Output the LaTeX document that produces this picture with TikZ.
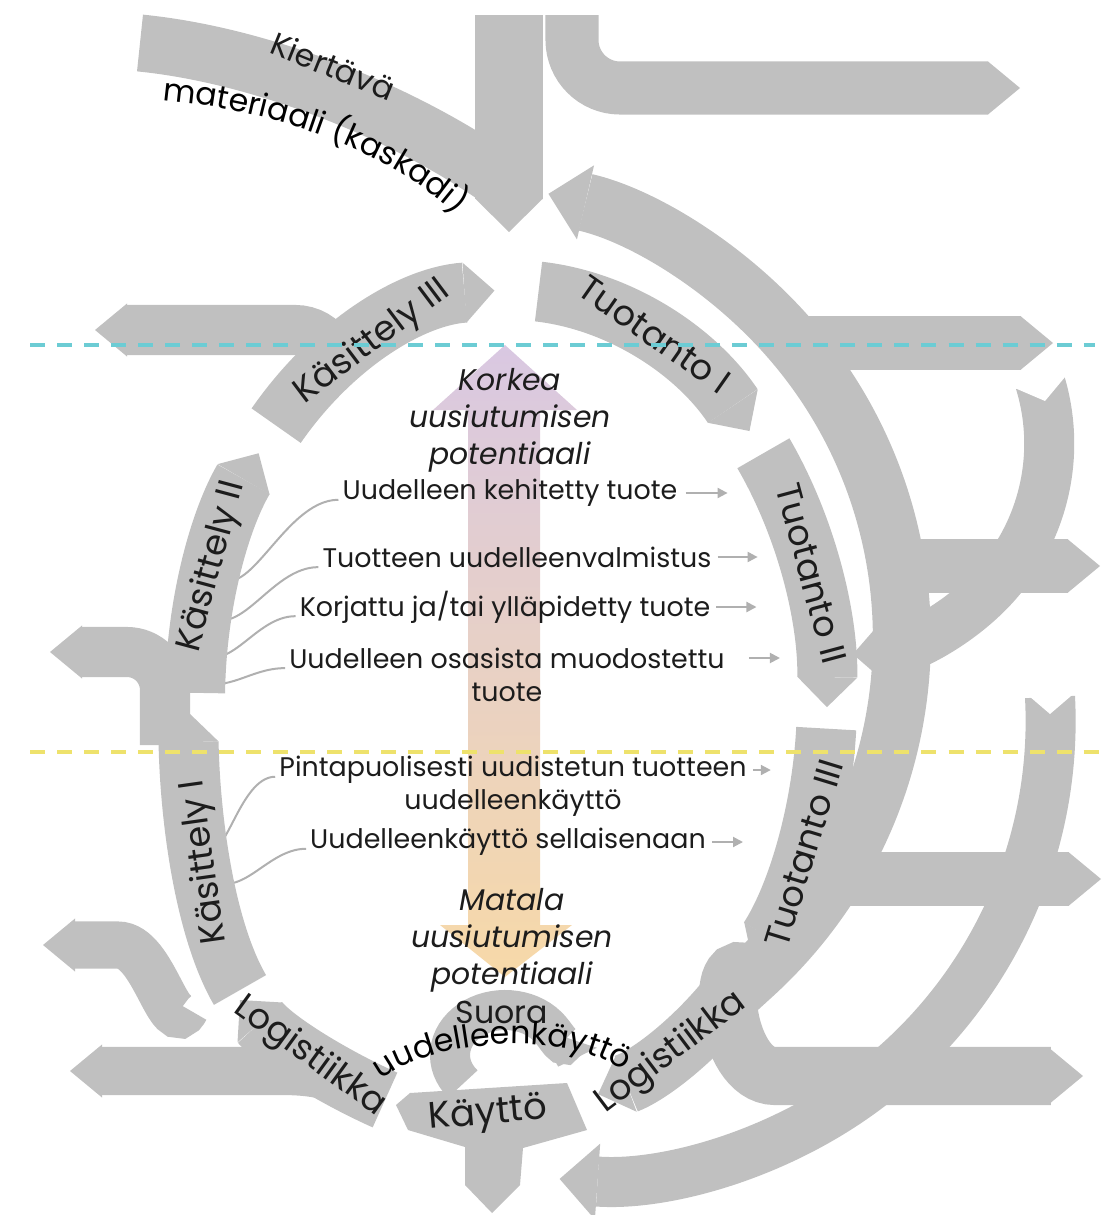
\documentclass[tikz,border=0pt]{standalone}
\usepackage{fontspec}
\setmainfont{Poppins}
\usetikzlibrary{arrows.meta,calc,positioning,decorations.text}

\definecolor{bandgray}{RGB}{192,192,192}
\definecolor{linkgray}{RGB}{176,176,176}
\definecolor{textdark}{RGB}{28,28,28}
\definecolor{lavender}{RGB}{217,200,226}
\definecolor{peach}{RGB}{234,210,198}
\definecolor{apricot}{RGB}{247,217,168}
\definecolor{cyanline}{RGB}{108,204,212}
\definecolor{yellowline}{RGB}{238,226,108}

\newcommand{\arcfont}{\fontsize{9}{11}\selectfont}

\tikzset{
	ring/.style={draw=bandgray, line width=0.6cm},
	outband/.style={draw=bandgray, line width=0.53cm},
	ringtip/.tip={Triangle[length=0.3cm, width=0.6cm, line width=0pt]},
	outtip/.tip={Triangle[length=0.32cm, width=0.53cm, line width=0pt]},
	bigtip/.tip={Triangle[length=0.38cm, width=0.76cm, line width=0pt]},
	ringlabel/.style={font=\fontsize{10}{12}\selectfont, text=textdark, inner sep=0pt},
	item/.style={font=\fontsize{7.65}{9.5}\selectfont, text=textdark, inner sep=1pt},
	potential/.style={font=\fontsize{8.5}{10.5}\selectfont\itshape, text=textdark, align=center},
	link/.style={draw=linkgray, line width=0.02cm},
	itemarrow/.style={link, -{Triangle[length=0.1cm, width=0.1cm]}},
	guide/.style={line width=0.04cm, dash pattern=on 0.15cm off 0.12cm}
}

\begin{document}
\begin{tikzpicture}[x=0.01cm, y=-0.01cm]
	\useasboundingbox (0,0) rectangle (1119,1215);
	\coordinate (ringc) at (511,700);

	\shade[top color=lavender, middle color=peach, bottom color=apricot] (433,410) -- (505,345) -- (577,410) -- (540,410) -- (540,925) -- (572,925) -- (505,977) -- (440,925) -- (468,925) -- (468,410) -- cycle;

	\node[potential] (korkea) at (510,420) {Korkea\\uusiutumisen\\potentiaali};
	\node[item] (t1) at (510,493) {Uudelleen kehitetty tuote};
	\node[item] (t2) at (517,557) {Tuotteen uudelleenvalmistus};
	\node[item] (t3) at (505,607) {Korjattu ja/tai ylläpidetty tuote};
	\node[item] (t4) at (507,658) {Uudelleen osasista muodostettu};
	\node[item] (t4b) at (507,692) {tuote};
	\node[item] (t5) at (513,770) {Pintapuolisesti uudistetun tuotteen};
	\node[item] (t5b) at (513,803) {uudelleenkäyttö};
	\node[item] (t6) at (508,842) {Uudelleenkäyttö sellaisenaan};
	\node[potential] (matala) at (512,940) {Matala\\uusiutumisen\\potentiaali};

	\coordinate (k2a) at (213,570);
	\coordinate (k2b) at (203,613);
	\coordinate (k2c) at (197,652);
	\coordinate (k2d) at (196,681);
	\coordinate (k1a) at (205,842);
	\coordinate (k1b) at (210,878);
	\draw[link] (k2a) to[out=-55, in=180] (t1.base west);
	\draw[link] (k2b) to[out=-40, in=180] (t2.base west);
	\draw[link] (k2c) to[out=-35, in=180] (t3.base west);
	\draw[link] (k2d) to[out=-20, in=180] (t4.base west);
	\draw[link] (k1a) to[out=-60, in=180] (t5.base west);
	\draw[link] (k1b) to[out=-35, in=180] (t6.base west);

	\coordinate[right=0.04cm of t1.east] (s1);
	\coordinate[right=0.42cm of s1] (e1);
	\coordinate[right=0.02cm of t2.east] (s2);
	\coordinate[right=0.4cm of s2] (e2);
	\coordinate[right=0.02cm of t3.east] (s3);
	\coordinate[right=0.4cm of s3] (e3);
	\coordinate[right=0.2cm of t4.east] (s4);
	\coordinate[right=0.31cm of s4] (e4);
	\coordinate[right=0.02cm of t5.east] (s5);
	\coordinate[right=0.18cm of s5] (e5);
	\coordinate[right=0.02cm of t6.east] (s6);
	\coordinate[right=0.31cm of s6] (e6);
	\draw[itemarrow] (s1) -- (e1);
	\draw[itemarrow] (s2) -- (e2);
	\draw[itemarrow] (s3) -- (e3);
	\draw[itemarrow] (s4) -- (e4);
	\draw[itemarrow] (s5) -- (e5);
	\draw[itemarrow] (s6) -- (e6);

	\draw[outband, line width=0.57cm] (140,43) .. controls (260,55) and (400,110) .. (500,180);
	\draw[outband, line width=0.67cm, -{Triangle[length=0.33cm, width=0.67cm, line width=0pt]}] (509,15) -- (509,232);
	\draw[outband, -outtip] (572,15) -- (572,40) arc[start angle=180, end angle=90, radius=48] -- (1020,88);
	\draw[outband, -outtip] (790,343) -- (1053,343);
	\draw[outband, -outtip] (885,566) -- (1100,566);
	\draw[outband, -outtip] (835,879) -- (1101,879);
	\draw[outband, line width=0.58cm, outtip-bigtip] (1083,1076) -- (775,1076) to[out=180, in=138, looseness=1.3] (751,977) arc[start angle=48, end angle=-77, radius=456];
	\draw[outband, line width=0.5cm, -bigtip] (1050,697) arc[start angle=-3, end angle=94, radius=459];
	\draw[outband, line width=0.5cm, -bigtip] (1040,382) arc[start angle=-17, end angle=86, radius=211];
	\fill[white] (1022,690) -- (1050,714) -- (1078,690) -- cycle;
	\fill[white] (1010,386) -- (1045,401) -- (1070,371) -- cycle;

	\draw[outband, line width=0.5cm, -outtip] (330,350) arc[start angle=-30, end angle=-90, radius=40] -- (95,330);
	\draw[outband, line width=0.5cm, -outtip] (165,745) -- (165,690) arc[start angle=0, end angle=-90, radius=38] -- (50,652);
	\draw[outband, line width=0.47cm, -outtip] (186,1008) to[out=243, in=0] (118,945) -- (43,945);
	\draw[outband, line width=0.48cm, -outtip] (362,1088) .. controls (330,1074) and (310,1071) .. (280,1071) -- (70,1071);

	\draw[ring, -ringtip] ($(ringc)+(222:316 and 410)$) arc[start angle=222, end angle=267, x radius=316, y radius=410];
	\draw[ring, -ringtip] ($(ringc)+(275:316 and 410)$) arc[start angle=275, end angle=319, x radius=316, y radius=410];
	\draw[ring, -ringtip] ($(ringc)+(323:316 and 410)$) arc[start angle=323, end angle=361, x radius=316, y radius=410];
	\draw[ring, -ringtip] ($(ringc)+(4:316 and 410)$) arc[start angle=4, end angle=40, x radius=316, y radius=410];
	\draw[ring, -ringtip] ($(ringc)+(45:316 and 410)$) arc[start angle=45, end angle=74, x radius=316, y radius=410];
	\draw[ring, -ringtip] (385,1100) .. controls (340,1080) and (280,1045) .. (240,1000);
	\draw[ring, -ringtip] (240,990) .. controls (205,930) and (190,820) .. (188,712);
	\draw[ring, -ringtip] ($(ringc)+(181:316 and 410)$) arc[start angle=181, end angle=217, x radius=316, y radius=410];

	\fill[bandgray] (396,1105) -- (410,1093) -- (567,1083) -- (587,1130) -- (523,1148) -- (520,1185) -- (492,1213) -- (465,1185) -- (465,1147) -- (408,1130) -- cycle;
	\draw[draw=bandgray, line width=0.4cm, -{Triangle[length=0.3cm, width=0.62cm, line width=0pt]}] ($(505,1055)+(140:55 and 45)$) arc[start angle=140, end angle=375, x radius=55, y radius=45];

	\node[ringlabel, rotate=37] (lk3) at ($(ringc)+(243.5:310 and 400)$) {Käsittely III};
	\node[ringlabel, rotate=-35] (lt1) at ($(ringc)+(297:316 and 410)$) {Tuotanto I};
	\node[ringlabel, rotate=-75] (lt2) at ($(ringc)+(342:316 and 410)$) {Tuotanto II};
	\node[ringlabel, rotate=73] (lt3) at ($(ringc)+(22:316 and 410)$) {Tuotanto III};
	\node[ringlabel, rotate=37] (llr) at ($(ringc)+(59.5:316 and 410)$) {Logistiikka};
	\node[ringlabel, font=\fontsize{10.5}{12}\selectfont, rotate=5] (lkay) at (488,1115) {Käyttö};
	\node[ringlabel, rotate=-36] (lll) at (310,1057) {Logistiikka};
	\node[ringlabel, rotate=98] (lk1) at (205,862) {Käsittely I};
	\node[ringlabel, rotate=75] (lk2) at ($(ringc)+(199:316 and 410)$) {Käsittely II};

	\node[font=\arcfont, text=textdark, rotate=-22] (kiert) at (333,66) {Kiertävä};
	\path[decorate, decoration={text along path, text align=center, text={|\arcfont|materiaali (kaskadi)}}] (158,100) .. controls (280,110) and (390,152) .. (460,218);
	\node[font=\arcfont, text=textdark] (suora) at (502,1012) {Suora};
	\path[decorate, decoration={text along path, text align=center, text={|\arcfont|uudelleenkäyttö}}] (380,1080) .. controls (430,1040) and (565,1028) .. (625,1072);

	\coordinate (cyanL) at (30,345);
	\coordinate (cyanR) at (1095,345);
	\coordinate (yellowL) at (30,752);
	\coordinate (yellowR) at (1105,752);
	\draw[guide, draw=cyanline] (cyanL) -- (cyanR);
	\draw[guide, draw=yellowline] (yellowL) -- (yellowR);

\end{tikzpicture}
\end{document}
